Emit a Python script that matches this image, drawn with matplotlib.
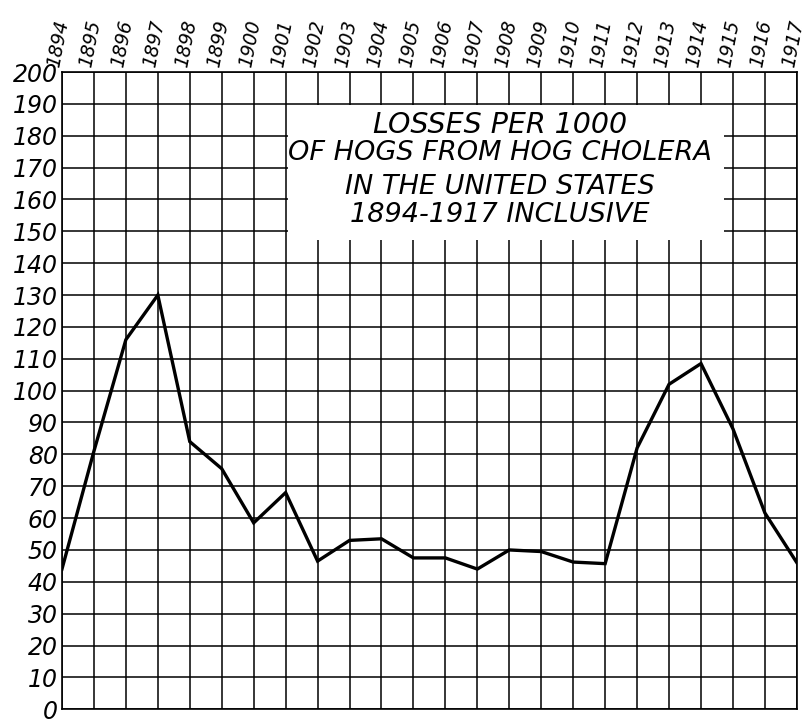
import matplotlib.pyplot as plt
from matplotlib.patches import Rectangle
from matplotlib.transforms import ScaledTranslation

years = list(range(1894, 1918))
losses = [44, 81, 116, 130, 84, 75.5, 58.5, 68, 46.5, 53, 53.5, 47.5, 47.5, 44,
          50, 49.5, 46.2, 45.7, 82, 102, 108.5, 88, 61.6, 46]
y_ticks = list(range(0, 201, 10))
title_lines = ["LOSSES PER 1000", "OF HOGS FROM HOG CHOLERA",
               "IN THE UNITED STATES", "1894-1917 INCLUSIVE"]

fig = plt.figure(figsize=(8.09, 7.23), dpi=100)
ax = fig.add_axes([0.0766, 0.019, 0.9084, 0.8814])

ax.set_xlim(1894, 1917)
ax.set_ylim(0, 200)

# grid drawn by hand so the title box can sit on top of it
for yr in years:
    ax.axvline(yr, color='black', lw=1.1, zorder=1)
for v in y_ticks:
    ax.axhline(v, color='black', lw=1.1, zorder=1)

# white title box that hides the grid
ax.add_patch(Rectangle((1901.06, 147.3), 13.65, 42.2, facecolor='white',
                       edgecolor='none', zorder=2))
title_y = [183.4, 174.6, 164, 155.2]
title_size = [20.5, 19.5, 19.5, 19.5]
for txt, ty, fs in zip(title_lines, title_y, title_size):
    ax.text(1907.7, ty, txt, ha='center', va='center', fontsize=fs,
            style='italic', zorder=3)

ax.plot(years, losses, color='black', lw=2.4, zorder=4, solid_joinstyle='miter')

ax.set_xticks(years)
ax.set_yticks(y_ticks)
ax.xaxis.tick_top()
ax.tick_params(length=0)
ax.set_xticklabels([str(y) for y in years], rotation=79, ha='left',
                   rotation_mode='anchor', va='center', fontsize=13.5, style='italic')
ax.set_yticklabels([str(v) for v in y_ticks], fontsize=17, style='italic')
ax.tick_params(axis='x', pad=4)
ax.tick_params(axis='y', pad=3)

# nudge the year labels a little left so the last one stays inside the figure
shift = ScaledTranslation(-8 / 100, 0, fig.dpi_scale_trans)
for lab in ax.get_xticklabels():
    lab.set_transform(lab.get_transform() + shift)

for s in ax.spines.values():
    s.set_color('black')
    s.set_linewidth(1.2)

fig.savefig('out.png', dpi=100)
